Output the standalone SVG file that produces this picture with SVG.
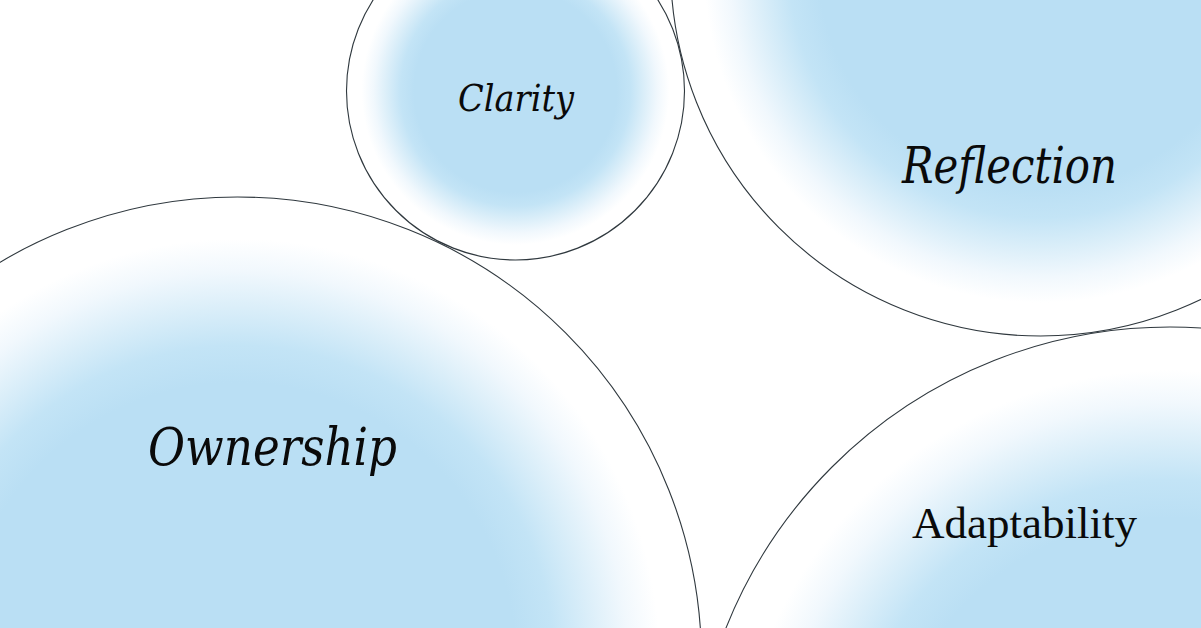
<svg xmlns="http://www.w3.org/2000/svg" width="1201" height="628" viewBox="0 0 1201 628">
  <style>
    .bubble { fill: url(#glow); stroke: #2f383e; stroke-width: 1.1; }
    .lbl { font-family: "Liberation Serif", serif; fill: #0a0a0a; }
    .it { font-family: "DejaVu Serif", "Liberation Serif", serif; font-style: italic; }
  </style>
  <defs>
    <radialGradient id="glow" cx="0.5" cy="0.5" r="0.5">
      <stop offset="0" stop-color="#badff4"/>
      <stop offset="0.6" stop-color="#badff4"/>
      <stop offset="0.68" stop-color="#c3e4f6"/>
      <stop offset="0.76" stop-color="#daeef9"/>
      <stop offset="0.84" stop-color="#f1f8fd"/>
      <stop offset="0.91" stop-color="#ffffff"/>
      <stop offset="1" stop-color="#ffffff"/>
    </radialGradient>
  </defs>
  <rect width="1201" height="628" fill="#ffffff"/>
  <g id="ownership">
    <circle class="bubble" cx="237.5" cy="661" r="464"/>
    <text class="lbl it" x="148" y="465" font-size="52" textLength="249" lengthAdjust="spacingAndGlyphs">Ownership</text>
  </g>
  <g id="clarity">
    <circle class="bubble" cx="515.5" cy="91" r="169"/>
    <text class="lbl it" x="458" y="111" font-size="38" textLength="116" lengthAdjust="spacingAndGlyphs">Clarity</text>
  </g>
  <g id="reflection">
    <circle class="bubble" cx="1040.5" cy="-34" r="370"/>
    <text class="lbl it" x="902" y="183" font-size="51" textLength="215" lengthAdjust="spacingAndGlyphs">Reflection</text>
  </g>
  <g id="adaptability">
    <circle class="bubble" cx="1170" cy="805" r="478"/>
    <text class="lbl" x="912" y="538" font-size="44" textLength="225" lengthAdjust="spacingAndGlyphs">Adaptability</text>
  </g>
  <g id="connectors"/>
</svg>
